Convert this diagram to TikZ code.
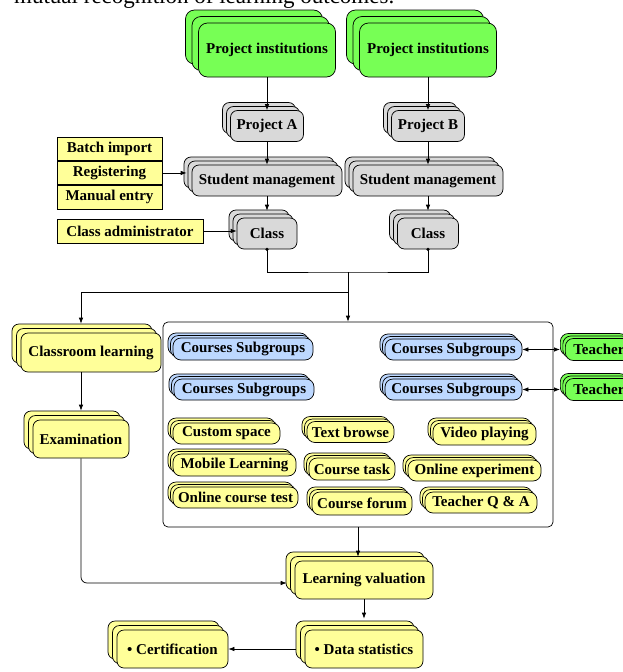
\documentclass[tikz,border=0pt]{standalone}
\usepackage{fontspec}
\setmainfont{Liberation Serif}
\usepackage{tikz}
\usetikzlibrary{positioning,arrows.meta,shadows}
\definecolor{instgreen}{RGB}{119,255,85}
\definecolor{mgmtgray}{RGB}{217,217,217}
\definecolor{learnyellow}{RGB}{255,255,153}
\definecolor{groupblue}{RGB}{189,216,255}
\tikzset{
  line/.style  = {-{Latex[length=6pt,width=4.5pt]}, line width=0.7pt},
  dline/.style = {{Latex[length=6pt,width=4.5pt]}-{Latex[length=6pt,width=4.5pt]}, line width=0.7pt},
  box/.style   = {draw, line width=0.7pt, rounded corners=7pt, align=center, inner sep=0pt,
                  font=\bfseries\fontsize{15}{17}\selectfont},
  stack/.style = {copy shadow={shadow xshift=-2*#1, shadow yshift=2*#1},
                  copy shadow={shadow xshift=-#1, shadow yshift=#1}},
  instbox/.style  = {box, fill=instgreen, rounded corners=9pt, stack=6.5pt},
  mgmtbox/.style  = {box, fill=mgmtgray, stack=4pt},
  learnbox/.style = {box, fill=learnyellow, stack=4.5pt},
  pillbox/.style  = {box, rounded corners=8pt, stack=2.5pt},
  listbox/.style  = {draw, line width=0.7pt, fill=learnyellow, inner sep=0pt,
                     font=\bfseries\fontsize{15}{17}\selectfont},
  panel/.style    = {draw, line width=0.7pt, rounded corners=5pt, inner sep=0pt},
}

\begin{document}
\begin{tikzpicture}[x=1pt, y=-1pt, node distance=0pt]
  \useasboundingbox (0,0) rectangle (622,672);
  \node[anchor=base west, inner sep=0pt, font=\fontsize{23}{23}\selectfont] (caption) at (14,3.5) {mutual recognition of learning outcomes.};

  \node[instbox, minimum width=137pt, minimum height=54pt] (instA) at (267,50) {Project institutions};
  \node[instbox, minimum width=137pt, minimum height=54pt] (instB) at (428,50) {Project institutions};
  \node[mgmtbox, minimum width=73pt, minimum height=31pt] (projA) at (267,126) {Project A};
  \node[mgmtbox, minimum width=73pt, minimum height=31pt] (projB) at (428,126) {Project B};
  \node[mgmtbox, minimum width=150pt, minimum height=31pt] (smA) at (267,180.5) {Student management};
  \node[mgmtbox, minimum width=150pt, minimum height=31pt] (smB) at (428,180.5) {Student management};
  \node[mgmtbox, minimum width=60pt, minimum height=31pt] (classA) at (267,233.5) {Class};
  \node[mgmtbox, minimum width=61pt, minimum height=31pt] (classB) at (428,233.5) {Class};

  \node[listbox, minimum width=105pt, minimum height=23.5pt] (batch) at (109.5,148.75) {Batch import};
  \node[listbox, minimum width=105pt, minimum height=23.5pt, below=of batch] (reg) {Registering};
  \node[listbox, minimum width=105pt, minimum height=23.5pt, below=of reg] (manual) {Manual entry};
  \node[listbox, minimum width=146pt, minimum height=24pt] (classadm) at (130,231) {Class administrator};

  \node[learnbox, minimum width=140pt, minimum height=39pt] (clroom) at (91,352.5) {Classroom learning};
  \node[learnbox, minimum width=96pt, minimum height=38pt] (exam) at (81,439) {Examination};

  \node[panel, minimum width=390pt, minimum height=205pt] (hub) at (358,424.5) {};
  \node[pillbox, fill=groupblue, minimum width=140pt, minimum height=22pt] (csA) at (243,349) {Courses Subgroups};
  \node[pillbox, fill=groupblue, minimum width=140pt, minimum height=21pt] (csB) at (244,389.5) {Courses Subgroups};
  \node[pillbox, fill=groupblue, minimum width=137pt, minimum height=21pt] (csC) at (453.5,349.5) {Courses Subgroups};
  \node[pillbox, fill=groupblue, minimum width=137pt, minimum height=21pt] (csD) at (453.5,389.5) {Courses Subgroups};
  \node[pillbox, fill=instgreen, anchor=west, inner xsep=8pt, minimum height=22pt] (teachA) at (565,349.5) {Teacher};
  \node[pillbox, fill=instgreen, anchor=west, inner xsep=8pt, minimum height=22pt] (teachB) at (565,389.5) {Teacher};

  \node[pillbox, fill=learnyellow, minimum width=107pt, minimum height=21pt] (custom) at (226.5,433.5) {Custom space};
  \node[pillbox, fill=learnyellow, minimum width=87pt, minimum height=21pt] (browse) at (350.5,432) {Text browse};
  \node[pillbox, fill=learnyellow, minimum width=103pt, minimum height=22pt] (video) at (484.5,434) {Video playing};
  \node[pillbox, fill=learnyellow, minimum width=123pt, minimum height=22pt] (mobile) at (234.5,465) {Mobile Learning};
  \node[pillbox, fill=learnyellow, minimum width=86pt, minimum height=22pt] (task) at (352,469) {Course task};
  \node[pillbox, fill=learnyellow, minimum width=133pt, minimum height=21pt] (labexp) at (474.5,470.5) {Online experiment};
  \node[pillbox, fill=learnyellow, minimum width=125pt, minimum height=21pt] (test) at (235.5,497.5) {Online course test};
  \node[pillbox, fill=learnyellow, minimum width=100pt, minimum height=23pt] (forum) at (362,503.5) {Course forum};
  \node[pillbox, fill=learnyellow, minimum width=112pt, minimum height=21pt] (qa) at (481,502.5) {Teacher Q \& A};

  \node[learnbox, minimum width=138pt, minimum height=38pt] (lval) at (364,580) {Learning valuation};
  \node[learnbox, minimum width=118pt, minimum height=38pt] (dstat) at (364,649) {\textbullet\ Data statistics};
  \node[learnbox, minimum width=111pt, minimum height=38pt] (cert) at (172.5,649) {\textbullet\ Certification};

  \coordinate (join) at (348,272);
  \coordinate (split) at (348,292);

  \draw[line] (instA) -- (projA);
  \draw[line] (instB) -- (projB);
  \draw[line] (projA) -- (smA);
  \draw[line] (projB) -- (smB);
  \draw[line] (smA) -- ([yshift=7pt]classA.north);
  \draw[line] (smB) -- ([yshift=7pt]classB.north);
  \draw[line] (reg.east) -- ([xshift=-5pt]reg.east -| smA.west);
  \draw[line] (classadm.east) -- (classadm.east -| classA.west);
  \fill (classA.south) circle (1.8pt);
  \fill (classB.south) circle (1.8pt);
  \draw (classA.south) |- (join) -| (classB.south);
  \draw[line] (join) -- (join |- hub.north);
  \draw[line] (split) -| ([yshift=9pt]clroom.north -| exam);
  \draw[line] (clroom.south -| exam) -- ([yshift=9pt]exam.north);
  \draw[line, rounded corners=6pt] (exam.south) |- ([xshift=-8pt,yshift=-3pt]lval.west);
  \draw[line] (hub.south) -- ([yshift=4pt]hub.south |- lval.north);
  \draw[line] (lval) -- ([yshift=11pt]dstat.north);
  \draw[line] ([xshift=-9pt]dstat.west) -- (cert.east);
  \draw[dline] (csC.east) -- ([xshift=-5pt]teachA.west);
  \draw[dline] (csD.east) -- ([xshift=-5pt]teachB.west);
\end{tikzpicture}
\end{document}
